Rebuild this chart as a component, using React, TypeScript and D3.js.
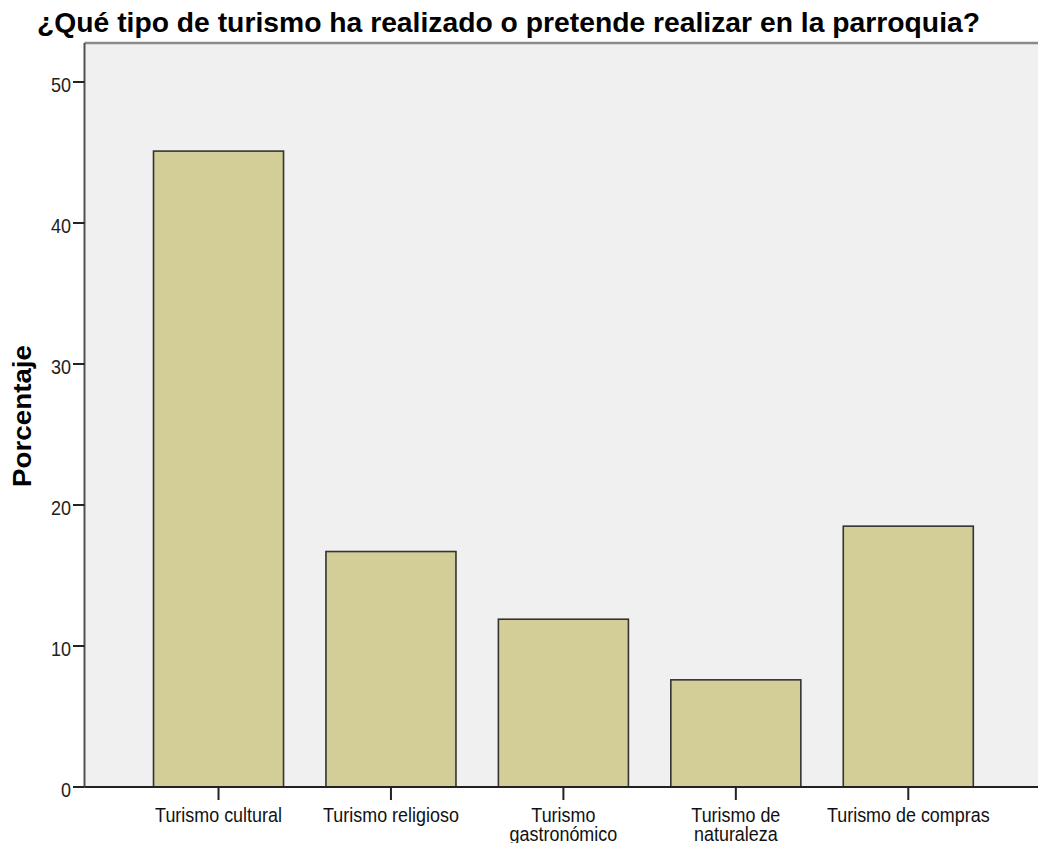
import React from "react";
import * as d3 from "d3";

const categories = [
  ["Turismo cultural"],
  ["Turismo religioso"],
  ["Turismo", "gastronómico"],
  ["Turismo de", "naturaleza"],
  ["Turismo de compras"],
];
const categoryKeys = categories.map((c) => c.join(" "));
const percentages = [45.1, 16.7, 11.9, 7.6, 18.5];
const yTicks = [0, 10, 20, 30, 40, 50];

const W = 1038;
const H = 843;
const plotLeft = 84.5;
const plotRight = W;
const plotTop = 43;
const plotBottom = 787;

export default function App() {
  const y = d3.scaleLinear().domain([0, 50]).range([plotBottom, 82]);
  const x = d3
    .scaleBand<string>()
    .domain(categoryKeys)
    .range([132.3, 994.5])
    .paddingInner(0.246)
    .paddingOuter(0.123);

  const labelFont = "'Liberation Sans', Arial, sans-serif";

  return (
    <svg
      width={W}
      height={H}
      style={{ position: "absolute", left: 0, top: 0, background: "#fff" }}
    >
      <text
        x={37}
        y={32}
        fontFamily={labelFont}
        fontWeight="bold"
        fontSize={28.5}
        textLength={943}
        lengthAdjust="spacingAndGlyphs"
        fill="#000"
      >
        ¿Qué tipo de turismo ha realizado o pretende realizar en la parroquia?
      </text>

      <rect
        x={plotLeft}
        y={plotTop}
        width={plotRight - plotLeft}
        height={plotBottom - plotTop}
        fill="#f0f0f0"
      />
      <line x1={plotLeft} x2={plotRight} y1={plotTop} y2={plotTop} stroke="#8a8a8a" strokeWidth={2.5} />

      {percentages.map((v, i) => {
        const key = categoryKeys[i];
        return (
          <rect
            key={key}
            x={x(key)}
            y={y(v)}
            width={x.bandwidth()}
            height={plotBottom - y(v)}
            fill="#d3ce97"
            stroke="#333"
            strokeWidth={1.6}
          />
        );
      })}

      <line x1={plotLeft} x2={plotLeft} y1={plotTop} y2={plotBottom} stroke="#505050" strokeWidth={2} />
      <line x1={plotLeft} x2={plotRight} y1={plotBottom} y2={plotBottom} stroke="#222" strokeWidth={2} />

      {yTicks.map((t) => (
        <g key={t}>
          <line x1={73} x2={plotLeft} y1={y(t)} y2={y(t)} stroke="#222" strokeWidth={2} />
          <text
            transform={`translate(71,${y(t) + 10}) scale(0.9,1)`}
            textAnchor="end"
            fontFamily={labelFont}
            fontSize={20}
            fill="#222"
          >
            {t}
          </text>
        </g>
      ))}

      {categories.map((lines, i) => {
        const key = categoryKeys[i];
        const cx = (x(key) as number) + x.bandwidth() / 2;
        return (
          <g key={key}>
            <line x1={cx} x2={cx} y1={plotBottom} y2={800} stroke="#222" strokeWidth={2} />
            {lines.map((ln, j) => (
              <text
                key={j}
                transform={`translate(${cx},${822 + j * 18.5}) scale(0.92,1)`}
                textAnchor="middle"
                fontFamily={labelFont}
                fontSize={19.5}
                fill="#111"
              >
                {ln}
              </text>
            ))}
          </g>
        );
      })}

      <text
        transform={`translate(31,416) rotate(-90)`}
        textAnchor="middle"
        fontFamily={labelFont}
        fontWeight="bold"
        fontSize={25}
        textLength={142}
        lengthAdjust="spacingAndGlyphs"
        fill="#000"
      >
        Porcentaje
      </text>
    </svg>
  );
}
